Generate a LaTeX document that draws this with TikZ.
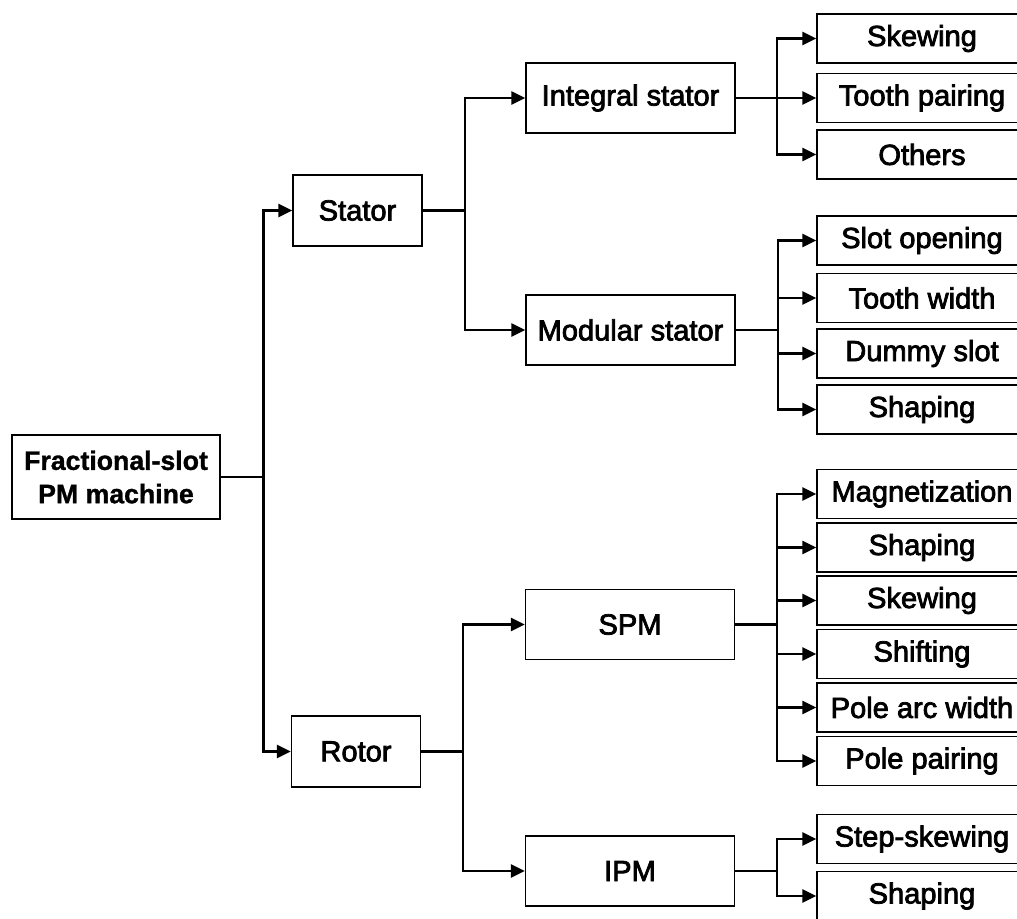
\documentclass[tikz,border=0pt]{standalone}
\usepackage{fontspec}
\setmainfont{Liberation Sans}
\newfontfamily\boxfont[FakeBold=2.6]{Liberation Sans}
\newfontfamily\rootfont[FakeBold=1.2]{Liberation Sans}
\usetikzlibrary{arrows.meta}
\begin{document}
\begin{tikzpicture}[x=0.75pt,y=-0.75pt,
  box/.style={draw=black, line width=1.1pt, inner sep=0pt, align=center,
    font=\boxfont\fontsize{21.8}{25}\selectfont},
  midbox/.style={box, minimum width=96.75pt, minimum height=53.25pt},
  catbox/.style={box, minimum width=156.75pt, minimum height=52.5pt},
  leaf/.style={box, minimum width=157.5pt, minimum height=37pt},
  rootbox/.style={draw=black, line width=2.2pt, inner sep=0pt, align=center,
    minimum width=156pt, minimum height=63pt,
    font=\rootfont\bfseries\fontsize{20}{25}\selectfont},
  wire/.style={line width=1.6pt},
  feed/.style={wire, -{Triangle[length=10.5pt,width=10pt]}}]
\useasboundingbox (0,0) rectangle (1017,918);
\clip (0,0) rectangle (1017,918);

% main levels
\node[rootbox] (root) at (116,477) {Fractional-slot\\PM machine};
\node[midbox] (stator) at (357.5,210.5) {Stator};
\node[midbox] (rotor) at (356,751.5) {Rotor};
\node[catbox] (integral) at (630.5,98) {Integral stator};
\node[catbox] (modular) at (630.5,330) {Modular stator};
\node[catbox] (spm) at (630,624.5) {SPM};
\node[catbox] (ipm) at (630,871) {IPM};

% techniques
\node[leaf] (i1) at (922,38.5) {Skewing};
\node[leaf] (i2) at (922,98) {Tooth pairing};
\node[leaf] (i3) at (922,154.5) {Others};
\node[leaf] (m1) at (922,240.5) {Slot opening};
\node[leaf] (m2) at (922,298) {Tooth width};
\node[leaf] (m3) at (922,353.5) {Dummy slot};
\node[leaf] (m4) at (922,409.5) {Shaping};
\node[leaf] (s1) at (922,494) {Magnetization};
\node[leaf] (s2) at (922,547.5) {Shaping};
\node[leaf] (s3) at (922,600.5) {Skewing};
\node[leaf] (s4) at (922,654) {Shifting};
\node[leaf] (s5) at (922,707.5) {Pole arc width};
\node[leaf] (s6) at (922,761) {Pole pairing};
\node[leaf] (p1) at (922,839) {Step-skewing};
\node[leaf] (p2) at (922,896) {Shaping};

% connectors
\draw[wire] (root.east) -- ++(42,0) coordinate (jr);
\draw[feed] (jr) |- (stator.west);
\draw[feed] (jr) |- (rotor.west);

\draw[wire] (stator.east) -- ++(42,0) coordinate (js);
\draw[feed] (js) |- (integral.west);
\draw[feed] (js) |- (modular.west);

\draw[wire] (rotor.east) -- ++(42,0) coordinate (jt);
\draw[feed] (jt) |- (spm.west);
\draw[feed] (jt) |- (ipm.west);

\draw[wire] (integral.east) -- ++(41,0) coordinate (ji);
\foreach \n in {i1,i2,i3} \draw[feed] (ji) |- (\n.west);

\draw[wire] (modular.east) -- ++(42,0) coordinate (jm);
\foreach \n in {m1,m2,m3,m4} \draw[feed] (jm) |- (\n.west);

\draw[wire] (spm.east) -- ++(42,0) coordinate (jp);
\foreach \n in {s1,s2,s3,s4,s5,s6} \draw[feed] (jp) |- (\n.west);

\draw[wire] (ipm.east) -- ++(42,0) coordinate (jq);
\foreach \n in {p1,p2} \draw[feed] (jq) |- (\n.west);
\end{tikzpicture}
\end{document}
